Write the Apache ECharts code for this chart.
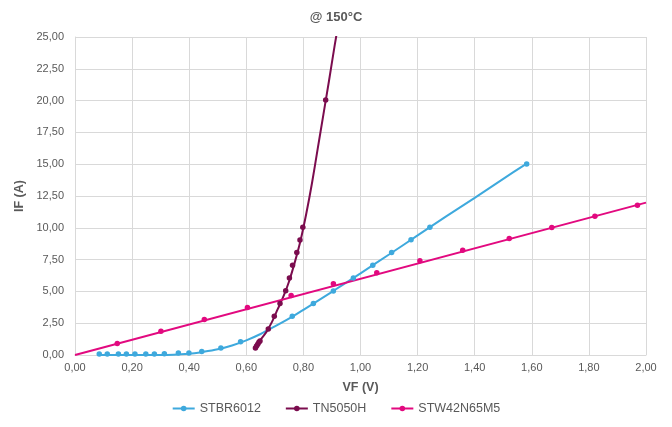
<!DOCTYPE html>
<html>
<head>
<meta charset="utf-8">
<script src="https://cdn.jsdelivr.net/npm/echarts@6/dist/echarts.min.js"></script>
<style>
html,body{margin:0;padding:0;background:#fff;}
#chart{width:672px;height:427px;}
</style>
</head>
<body>
<div id="chart"></div>
<script>
// ---- data ----
const seriesNames = ['STBR6012', 'TN5050H', 'STW42N65M5'];
const xTicks = [0, 0.2, 0.4, 0.6, 0.8, 1.0, 1.2, 1.4, 1.6, 1.8, 2.0];
const yTicks = [0, 2.5, 5, 7.5, 10, 12.5, 15, 17.5, 20, 22.5, 25];

// STBR6012 measured points
const stbrVF = [0.085, 0.113, 0.152, 0.180, 0.210, 0.248, 0.278, 0.313, 0.362, 0.399, 0.444, 0.511, 0.580, 0.761, 0.835, 0.905, 0.975, 1.043, 1.109, 1.177, 1.243, 1.582];
const stbrIF = [0.07, 0.07, 0.07, 0.07, 0.07, 0.07, 0.07, 0.1, 0.15, 0.16, 0.27, 0.55, 1.05, 3.05, 4.05, 5.04, 6.06, 7.05, 8.05, 9.07, 10.05, 15.02];
// STBR6012 trend line
const stbrTrendVF = [0.085, 0.2, 0.3, 0.4, 0.45, 0.5, 0.55, 0.6, 0.65, 0.7, 0.76, 0.8, 0.9, 1.0, 1.1, 1.2, 1.3, 1.4, 1.5, 1.582];
const stbrTrendIF = [0, 0, 0, 0.1, 0.25, 0.45, 0.75, 1.15, 1.65, 2.25, 3.0, 3.55, 4.97, 6.42, 7.9, 9.4, 10.9, 12.35, 13.85, 15.05];

// TN5050H measured points
const tnVF = [0.632, 0.636, 0.640, 0.644, 0.648, 0.677, 0.698, 0.718, 0.738, 0.751, 0.762, 0.777, 0.788, 0.798, 0.878];
const tnIF = [0.55, 0.7, 0.85, 1.0, 1.1, 2.05, 3.05, 4.05, 5.05, 6.05, 7.05, 8.05, 9.05, 10.05, 20.05];
// TN5050H trend line
const tnTrendVF = [0.633, 0.65, 0.67, 0.69, 0.71, 0.73, 0.75, 0.77, 0.79, 0.81, 0.83, 0.85, 0.87, 0.89, 0.91, 0.92];
const tnTrendIF = [0.45, 1.2, 1.8, 2.6, 3.6, 4.6, 5.8, 7.3, 9.0, 11.1, 13.5, 16.2, 18.9, 21.6, 24.4, 25.7];

// STW42N65M5 measured points
const stwVF = [0.148, 0.301, 0.453, 0.604, 0.757, 0.905, 1.057, 1.208, 1.358, 1.521, 1.670, 1.821, 1.970];
const stwIF = [0.9, 1.86, 2.8, 3.74, 4.68, 5.6, 6.46, 7.4, 8.24, 9.16, 10.02, 10.9, 11.78];
// STW42N65M5 trend line
const stwTrendVF = [0, 2.0];
const stwTrendIF = [0, 11.98];

// ---- chart ----
const colors = ['#3EA9DD', '#7B0C4E', '#E2097F'];
const zip = (a, b) => a.map((v, i) => [v, b[i]]);
const fmt = v => v.toFixed(2).replace('.', ',');
const FONT = '"Liberation Sans", Arial, sans-serif';

const trends = [zip(stbrTrendVF, stbrTrendIF), zip(tnTrendVF, tnTrendIF), zip(stwTrendVF, stwTrendIF)];
const points = [zip(stbrVF, stbrIF), zip(tnVF, tnIF), zip(stwVF, stwIF)];

const series = [];
seriesNames.forEach((n, i) => {
  series.push({
    name: n, type: 'line', data: trends[i], smooth: 0.3, showSymbol: false,
    symbol: 'circle', symbolSize: 6, clip: true,
    lineStyle: { color: colors[i], width: 2 }, itemStyle: { color: colors[i] },
    z: 2
  });
});
seriesNames.forEach((n, i) => {
  series.push({
    name: n, type: 'scatter', data: points[i], symbol: 'circle', symbolSize: 5.5,
    itemStyle: { color: colors[i], opacity: 1 }, z: 3
  });
});

const chart = echarts.init(document.getElementById('chart'), null, { renderer: 'canvas' });
chart.setOption({
  animation: false,
  color: colors,
  textStyle: { fontFamily: FONT },
  title: {
    text: '@ 150°C', left: 'center', top: 6,
    textStyle: { fontFamily: FONT, fontSize: 13, fontWeight: 'bold', color: '#595959' }
  },
  grid: { left: 75, right: 26, top: 37, bottom: 72, containLabel: false },
  legend: {
    data: seriesNames, bottom: 7, left: 'center',
    itemWidth: 22, itemHeight: 7, itemGap: 24,
    textStyle: { fontFamily: FONT, fontSize: 12.5, color: '#595959' }
  },
  xAxis: {
    type: 'value', min: xTicks[0], max: xTicks[xTicks.length - 1], interval: 0.2,
    name: 'VF (V)', nameLocation: 'middle', nameGap: 26,
    nameTextStyle: { fontFamily: FONT, fontSize: 12.5, fontWeight: 'bold', color: '#595959' },
    axisLine: { show: true, lineStyle: { color: '#D9D9D9', width: 1 } },
    axisTick: { show: false },
    axisLabel: { formatter: fmt, color: '#595959', fontSize: 11, fontFamily: FONT, margin: 7 },
    splitLine: { show: true, lineStyle: { color: '#D9D9D9', width: 1 } }
  },
  yAxis: {
    type: 'value', min: yTicks[0], max: yTicks[yTicks.length - 1], interval: 2.5,
    name: 'IF (A)', nameLocation: 'middle', nameGap: 43, nameRotate: 90,
    nameTextStyle: { fontFamily: FONT, fontSize: 12.5, fontWeight: 'bold', color: '#595959' },
    axisLine: { show: true, lineStyle: { color: '#D9D9D9', width: 1 } },
    axisTick: { show: false },
    axisLabel: { formatter: fmt, color: '#595959', fontSize: 11, fontFamily: FONT, margin: 11 },
    splitLine: { show: true, lineStyle: { color: '#D9D9D9', width: 1 } }
  },
  series: series
});
</script>
</body>
</html>
